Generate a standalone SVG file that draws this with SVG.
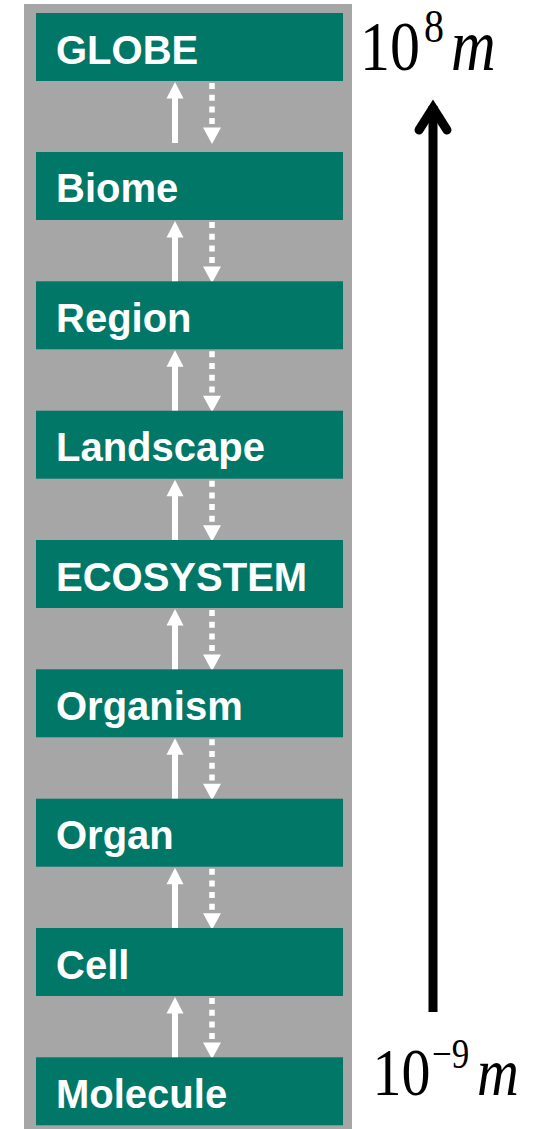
<svg xmlns="http://www.w3.org/2000/svg" width="542" height="1129" viewBox="0 0 542 1129">
  <style>
    .box { fill: #007767; }
    .lbl { font-family: "Liberation Sans", Arial, sans-serif; font-weight: bold; font-size: 40px; fill: #ffffff; }
    .up { fill: #ffffff; }
    .dash { stroke: #ffffff; stroke-width: 5.5; stroke-dasharray: 6 5.7; fill: none; }
    .math { font-family: "Liberation Serif", "Times New Roman", serif; fill: #000000; }
  </style>
  <defs>
    <!-- pair of arrows between two levels: solid up, dotted down; origin at the bottom edge of the upper box -->
    <g id="pair">
      <polygon class="up" points="166.5,17.5 183.5,17.5 175,1"/>
      <rect class="up" x="172" y="16" width="6" height="46"/>
      <line class="dash" x1="212" y1="2" x2="212" y2="47"/>
      <polygon class="up" points="203,46.5 221,46.5 212,63"/>
    </g>
  </defs>

  <rect id="panel" x="24" y="4" width="328" height="1125" fill="#a6a6a6"/>

  <g id="connectors">
    <use href="#pair" transform="translate(0,81)"/>
    <use href="#pair" transform="translate(0,220)"/>
    <use href="#pair" transform="translate(0,349.3)"/>
    <use href="#pair" transform="translate(0,478.7)"/>
    <use href="#pair" transform="translate(0,608)"/>
    <use href="#pair" transform="translate(0,737.3)"/>
    <use href="#pair" transform="translate(0,866.7)"/>
    <use href="#pair" transform="translate(0,996)"/>
  </g>

  <g id="globe"><rect class="box" x="36" y="13" width="307" height="68"/><text class="lbl" x="56" y="64">GLOBE</text></g>
  <g id="biome"><rect class="box" x="36" y="152" width="307" height="68"/><text class="lbl" x="56" y="202">Biome</text></g>
  <g id="region"><rect class="box" x="36" y="281.3" width="307" height="68"/><text class="lbl" x="56" y="331.5">Region</text></g>
  <g id="landscape"><rect class="box" x="36" y="410.7" width="307" height="68"/><text class="lbl" x="56" y="461">Landscape</text></g>
  <g id="ecosystem"><rect class="box" x="36" y="540" width="307" height="68"/><text class="lbl" x="56" y="590.5">ECOSYSTEM</text></g>
  <g id="organism"><rect class="box" x="36" y="669.3" width="307" height="68"/><text class="lbl" x="56" y="719.5">Organism</text></g>
  <g id="organ"><rect class="box" x="36" y="798.7" width="307" height="68"/><text class="lbl" x="56" y="849">Organ</text></g>
  <g id="cell"><rect class="box" x="36" y="928" width="307" height="68"/><text class="lbl" x="56" y="978.5">Cell</text></g>
  <g id="molecule"><rect class="box" x="36" y="1057.3" width="307" height="68"/><text class="lbl" x="56" y="1107.5">Molecule</text></g>

  <!-- size scale axis -->
  <g id="scale">
    <line x1="433" y1="1012" x2="433" y2="106" stroke="#000" stroke-width="9"/>
    <polyline points="419,130 433,108 447,130" fill="none" stroke="#000" stroke-width="9" stroke-linecap="round" stroke-linejoin="miter" stroke-miterlimit="10"/>
  </g>

  <!-- equation-style labels, slightly stretched vertically -->
  <g id="scale-top">
    <text class="math" font-size="60" transform="translate(360,70) scale(1,1.18)">10</text>
    <text class="math" font-size="40" transform="translate(424,42) scale(1,1.18)">8</text>
    <text class="math" font-size="62" font-style="italic" transform="translate(451,70) scale(1,1.18)">m</text>
  </g>
  <g id="scale-bottom">
    <text class="math" font-size="58" transform="translate(372.5,1095) scale(1,1.18)">10</text>
    <text class="math" font-size="35" transform="translate(432,1068) scale(1,1.18)">−9</text>
    <text class="math" font-size="58" font-style="italic" transform="translate(477,1095) scale(1,1.18)">m</text>
  </g>
</svg>
